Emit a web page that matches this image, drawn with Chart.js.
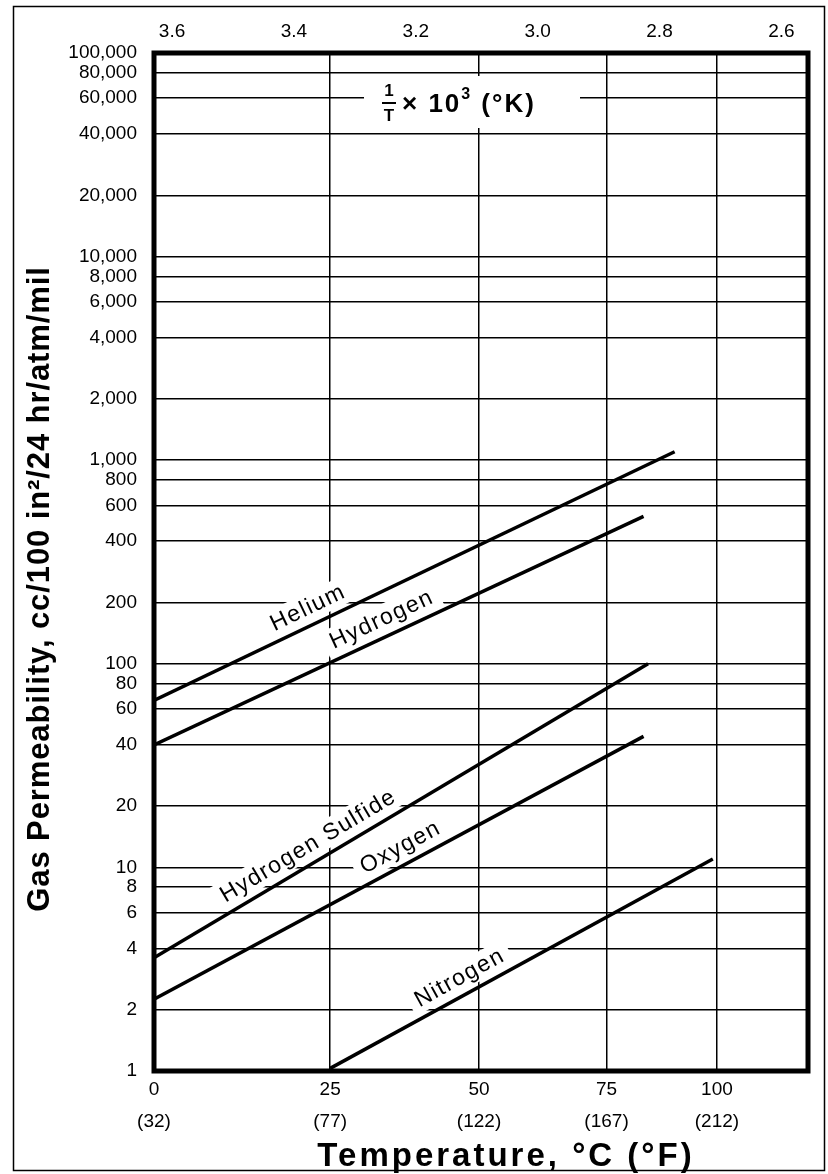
<!DOCTYPE html>
<html>
<head>
<meta charset="utf-8">
<title>Gas Permeability vs Temperature</title>
<script src="https://cdn.jsdelivr.net/npm/chart.js@4.4.1/dist/chart.umd.min.js"></script>
<style>
  html, body { margin: 0; padding: 0; background: #fff; }
  canvas { display: block; }
</style>
</head>
<body>
<canvas id="chart" width="828" height="1174"></canvas>
<script>
// ====== DATA ======
const gases     = ['Helium', 'Hydrogen', 'Hydrogen Sulfide', 'Oxygen', 'Nitrogen'];
const tempFrom  = [0, 0, 0, 0, 25];            // °C where each line starts
const tempTo    = [90, 83, 84, 83, 99];        // °C where each line ends
const permFrom  = [66, 40, 3.6, 2.25, 1.03];   // cc/100 in²/24 hr/atm/mil
const permTo    = [1100, 530, 100, 44, 11];

const tempTicks = [0, 25, 50, 75, 100];        // °C
const fahrTicks = [32, 77, 122, 167, 212];     // °F
const invTicks  = [3.6, 3.4, 3.2, 3.0, 2.8, 2.6];
const permTicks = [1, 2, 4, 6, 8, 10, 20, 40, 60, 80, 100, 200, 400, 600, 800, 1000,
                   2000, 4000, 6000, 8000, 10000, 20000, 40000, 60000, 80000, 100000];

// ====== LOOK ======
const FAMILY = "'Liberation Sans', Arial, sans-serif";
const TICK_FONT = { family: FAMILY, size: 19 };
const LABEL_FONT = '23px ' + FAMILY;
const labelAt = [0.31, 0.48, 0.33, 0.52, 0.36];   // where along each line its name sits
const labelLift = 18;

// x runs in 1/T x 10^3 (K), hottest on the right
const invT = c => 1000 / (c + 273.15);

const datasets = gases.map((g, i) => ({
  label: g,
  data: [{ x: invT(tempFrom[i]), y: permFrom[i] }, { x: invT(tempTo[i]), y: permTo[i] }],
  borderColor: '#000', borderWidth: 3.5, pointRadius: 0, fill: false,
  xAxisID: 'x', yAxisID: 'y'
}));

// ====== DRAWING HELPERS ======
function boxedText(ctx, text, x, y, angle, font, spacing, padX, padY){
  ctx.save();
  ctx.translate(x, y); ctx.rotate(angle);
  ctx.font = font; ctx.letterSpacing = spacing;
  const w = ctx.measureText(text).width;
  const h = parseInt(font.match(/(\d+)px/)[1], 10);
  ctx.fillStyle = '#fff';
  ctx.fillRect(-w/2 - padX, -h/2 - padY, w + 2*padX, h + 2*padY);
  ctx.fillStyle = '#000'; ctx.textAlign = 'center'; ctx.textBaseline = 'middle';
  ctx.fillText(text, 0, 1);
  ctx.restore();
}

const annotations = {
  id: 'annotations',
  beforeDatasetsDraw(chart){
    const { ctx } = chart;
    // gas names along their lines
    chart.data.datasets.forEach((ds, i) => {
      const pts = chart.getDatasetMeta(i).data;
      const x0 = pts[0].x, y0 = pts[0].y, x1 = pts[1].x, y1 = pts[1].y;
      const a = Math.atan2(y1 - y0, x1 - x0);
      const t = labelAt[i];
      const cx = x0 + (x1 - x0) * t + Math.sin(a) * labelLift;
      const cy = y0 + (y1 - y0) * t - Math.cos(a) * labelLift;
      boxedText(ctx, ds.label, cx, cy, a, LABEL_FONT, '1.5px', 7, 2);
    });
    // 1/T x 10^3 (°K) caption inside the plot
    ctx.save();
    ctx.fillStyle = '#fff';
    ctx.fillRect(364, 76, 216, 52);
    ctx.fillStyle = '#000';
    ctx.textAlign = 'center'; ctx.textBaseline = 'middle';
    ctx.font = 'bold 17px ' + FAMILY;
    ctx.fillText('1', 389, 91);
    ctx.fillText('T', 389, 116);
    ctx.fillRect(382, 102, 14, 2);
    ctx.textAlign = 'left';
    ctx.font = 'bold 26px ' + FAMILY;
    ctx.letterSpacing = '2px';
    ctx.fillText('\u00d7 10', 402, 105);
    const w = ctx.measureText('\u00d7 10').width;
    ctx.font = 'bold 16px ' + FAMILY;
    ctx.fillText('3', 402 + w, 95);
    ctx.font = 'bold 26px ' + FAMILY;
    ctx.fillText('(\u00b0K)', 402 + w + 20, 105);
    ctx.restore();
  },
  afterDraw(chart){
    const { ctx, chartArea: a } = chart;
    ctx.save();
    // heavy plot frame
    ctx.strokeStyle = '#000'; ctx.lineWidth = 5;
    ctx.strokeRect(a.left, a.top, a.right - a.left, a.bottom - a.top);
    // thin outer border
    ctx.lineWidth = 1.5;
    ctx.strokeRect(13.5, 6.5, 811, 1164);
    // axis titles
    ctx.fillStyle = '#000'; ctx.textAlign = 'center'; ctx.textBaseline = 'middle';
    ctx.font = 'bold 31px ' + FAMILY;
    ctx.letterSpacing = '0.9px';
    ctx.save();
    ctx.translate(40, 589); ctx.rotate(-Math.PI / 2);
    ctx.fillText('Gas Permeability, cc/100 in\u00b2/24 hr/atm/mil', 0, 0);
    ctx.restore();
    ctx.font = 'bold 33px ' + FAMILY;
    ctx.letterSpacing = '3px';
    ctx.fillText('Temperature, \u00b0C (\u00b0F)', 506, 1157);
    ctx.restore();
  }
};

// ====== CHART ======
new Chart(document.getElementById('chart'), {
  type: 'line',
  data: { datasets },
  options: {
    responsive: false, animation: false, devicePixelRatio: 1,
    layout: { padding: { left: 0, top: 0, right: 20, bottom: 0 } },
    plugins: { legend: { display: false }, tooltip: { enabled: false } },
    scales: {
      x: {
        type: 'linear', position: 'bottom', reverse: true, min: 2.5212, max: 3.6610,
        afterBuildTicks: s => { s.ticks = tempTicks.map(c => ({ value: invT(c) })); },
        afterFit: s => { s.height = 103; },
        ticks: {
          autoSkip: false, maxRotation: 0, padding: 3, color: '#000',
          font: { ...TICK_FONT, lineHeight: 1.68 },
          callback: (v, i) => [String(tempTicks[i]), '(' + fahrTicks[i] + ')']
        },
        grid: { color: '#000', lineWidth: 1.5, drawTicks: false },
        border: { display: false }
      },
      x2: {
        type: 'linear', position: 'top', reverse: true, min: 2.5563, max: 3.6296,
        afterBuildTicks: s => { s.ticks = invTicks.map(v => ({ value: v })); },
        afterFit: s => { s.height = 53; },
        ticks: {
          autoSkip: false, maxRotation: 0, padding: 10, color: '#000',
          font: { ...TICK_FONT, lineHeight: 1.2 },
          callback: v => v.toFixed(1)
        },
        grid: { display: false, drawTicks: false },
        border: { display: false }
      },
      y: {
        type: 'logarithmic', position: 'left', min: 1, max: 100000,
        afterBuildTicks: s => { s.ticks = permTicks.map(v => ({ value: v })); },
        afterFit: s => { s.width = 154; },
        ticks: {
          autoSkip: false, padding: 17, color: '#000', font: TICK_FONT,
          callback: v => Number(v).toLocaleString('en-US')
        },
        grid: { color: '#000', lineWidth: 1.5, drawTicks: false },
        border: { display: false }
      }
    }
  },
  plugins: [annotations]
});
</script>
</body>
</html>
